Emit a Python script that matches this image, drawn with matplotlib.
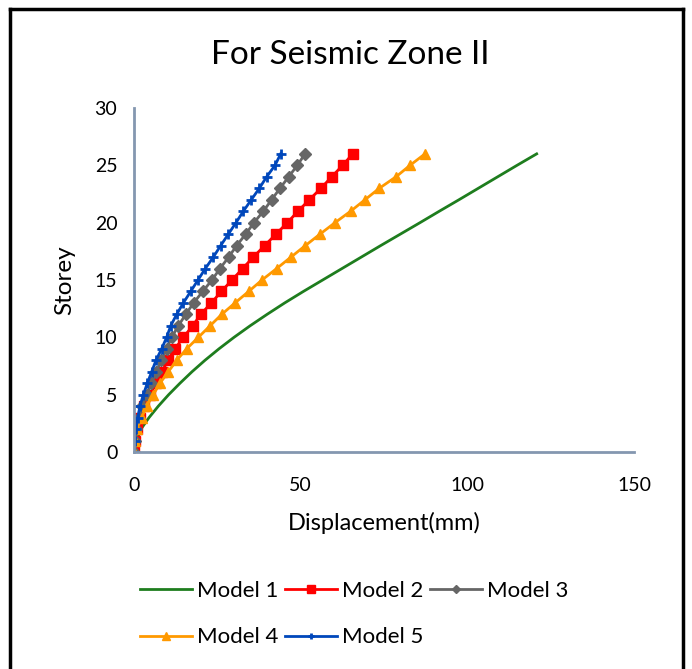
import matplotlib

matplotlib.use("Agg")

import matplotlib.pyplot as plt
from matplotlib.lines import Line2D

plt.rcParams["font.family"] = ["Lato", "DejaVu Sans"]

STOREYS = list(range(27))
MODEL_1 = [0, 0.8, 2.1, 4.5, 7.3, 10.4, 13.8, 17.4, 21.3, 25.5, 30.0, 34.8, 39.9, 45.2,
           50.8, 56.6, 62.4, 68.2, 74.0, 79.9, 85.8, 91.6, 97.5, 103.3, 109.1, 114.9, 120.8]
MODEL_2 = [0, 0.3, 0.8, 1.8, 3.0, 4.8, 6.6, 8.3, 10.3, 12.3, 14.8, 17.6, 20.0, 23.2,
           26.2, 29.4, 32.6, 35.8, 39.2, 42.6, 46.0, 49.2, 52.6, 56.1, 59.3, 62.6, 65.6]
MODEL_3 = [0, 0.3, 0.7, 1.5, 2.5, 3.8, 5.2, 6.7, 8.2, 9.8, 11.3, 13.3, 15.5, 17.9,
           20.6, 23.4, 25.8, 28.4, 30.8, 33.5, 36.0, 38.8, 41.3, 43.8, 46.4, 49.0, 51.3]
MODEL_4 = [0, 0.3, 0.8, 2.3, 3.8, 5.8, 7.8, 10.3, 12.8, 15.8, 19.3, 22.8, 26.3, 30.3,
           34.4, 38.4, 42.8, 47.1, 51.4, 55.8, 60.3, 65.0, 69.3, 73.6, 78.6, 82.8, 87.3]
MODEL_5 = [0, 0.2, 0.6, 1.1, 1.8, 2.8, 4.0, 5.3, 6.6, 8.3, 9.8, 11.0, 12.8, 14.8,
           17.0, 19.2, 21.4, 23.8, 26.0, 28.3, 30.6, 32.8, 35.2, 37.6, 39.8, 42.3, 44.0]
X_TICKS = [0, 50, 100, 150]
Y_TICKS = [0, 5, 10, 15, 20, 25, 30]

AXIS_COLOR = "#8497b0"

fig = plt.figure(figsize=(6.92, 6.69), dpi=100)
ax = fig.add_axes([134 / 692, 1 - 452 / 669, 500 / 692, 344 / 669])

ax.plot(MODEL_1, STOREYS, color="#1e7d1e", linewidth=2.0, label="Model 1")
ax.plot(MODEL_2, STOREYS, color="#ff0000", linewidth=2.0, marker="s", markersize=7.5,
        label="Model 2")
ax.plot(MODEL_3, STOREYS, color="#666666", linewidth=2.0, marker="D", markersize=6.3,
        label="Model 3")
ax.plot(MODEL_4, STOREYS, color="#ff9900", linewidth=2.0, marker="^", markersize=7.5,
        label="Model 4")
ax.plot(MODEL_5, STOREYS, color="#0047bb", linewidth=2.0, marker="+", markersize=7,
        markeredgewidth=2.0, label="Model 5")

ax.set_xlim(0, 150)
ax.set_ylim(0, 30)
ax.set_xticks(X_TICKS)
ax.set_yticks(Y_TICKS)
ax.tick_params(length=0, labelsize=14)
ax.tick_params(axis="x", pad=18)
ax.tick_params(axis="y", pad=12)
for side in ["top", "right"]:
    ax.spines[side].set_visible(False)
for side in ["left", "bottom"]:
    ax.spines[side].set_color(AXIS_COLOR)
    ax.spines[side].set_linewidth(2.0)

ax.set_xlabel("Displacement(mm)", fontsize=17, labelpad=13)
ax.set_ylabel("Storey", fontsize=17.5, labelpad=14)
fig.text(350 / 692, 1 - 55 / 669, "For Seismic Zone II",
         ha="center", va="center", fontsize=24)

handles, labels = ax.get_legend_handles_labels()
order = [0, 3, 1, 4, 2]
fig.legend([handles[i] for i in order], [labels[i] for i in order],
           loc="upper left", bbox_to_anchor=(129 / 692, 1 - 570 / 669),
           ncol=3, frameon=False, fontsize=16, markerscale=0.7, borderpad=0,
           handlelength=2.34, handletextpad=0.22, columnspacing=0.3, labelspacing=1.18)

# chart frame
for xs, ys in [([10, 10], [0, 669 - 9]), ([10, 683], [669 - 9, 669 - 9]), ([683, 683], [669 - 9, 0])]:
    fig.add_artist(Line2D([x / 692 for x in xs], [y / 669 for y in ys],
                          transform=fig.transFigure, color="black", linewidth=2.5))

fig.savefig("out.png", dpi=100)
